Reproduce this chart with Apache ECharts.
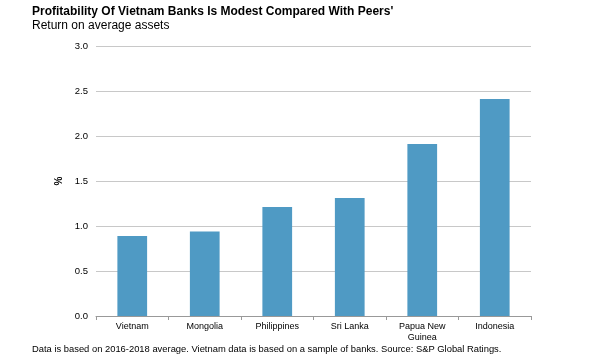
<!DOCTYPE html>
<html><head><meta charset="utf-8">
<script src="https://cdn.jsdelivr.net/npm/echarts@6/dist/echarts.min.js"></script>
<style>html,body{margin:0;padding:0;background:#fff}#c{width:600px;height:360px}</style>
</head><body><div id="c"></div>
<script>
const categories = ['Vietnam', 'Mongolia', 'Philippines', 'Sri Lanka', 'Papua New\nGuinea', 'Indonesia'];
const roaValues = [0.89, 0.94, 1.21, 1.31, 1.91, 2.41];
const titleText = "Profitability Of Vietnam Banks Is Modest Compared With Peers'";
const subtitleText = 'Return on average assets';
const footnoteText = 'Data is based on 2016-2018 average. Vietnam data is based on a sample of banks. Source: S&P Global Ratings.';
const F = 'Liberation Sans, Arial, sans-serif';
const chart = echarts.init(document.getElementById('c'), null, {renderer: 'canvas'});
chart.setOption({
  animation: false,
  backgroundColor: '#fff',
  title: [
    {text: titleText, left: 32, top: 6, padding: 0, textStyle: {fontFamily: F, fontSize: 12, fontWeight: 'bold', color: '#000'}},
    {text: subtitleText, left: 32, top: 20, padding: 0, textStyle: {fontFamily: F, fontSize: 12, fontWeight: 'normal', color: '#000'}},
    {text: footnoteText, left: 32, top: 345, padding: 0, textStyle: {fontFamily: F, fontSize: 9.4, fontWeight: 'normal', color: '#000'}}
  ],
  grid: {left: 96, right: 69, top: 46, bottom: 44, containLabel: false},
  xAxis: {
    type: 'category', data: categories,
    axisLine: {lineStyle: {color: '#999', width: 1}},
    axisTick: {show: true, alignWithLabel: false, length: 4, lineStyle: {color: '#999'}},
    axisLabel: {fontFamily: F, fontSize: 9, color: '#000', margin: 5, lineHeight: 11, interval: 0}
  },
  yAxis: {
    type: 'value', min: 0, max: 3, interval: 0.5,
    name: '%', nameLocation: 'middle', nameGap: 32, nameRotate: 90,
    nameTextStyle: {fontFamily: F, fontSize: 10, fontWeight: 'bold', color: '#000'},
    axisLine: {show: false},
    axisTick: {show: false},
    splitLine: {lineStyle: {color: '#c8c8c8', width: 1}},
    axisLabel: {fontFamily: F, fontSize: 9.5, color: '#000', margin: 8, formatter: v => v.toFixed(1)}
  },
  series: [{
    type: 'bar', data: roaValues, barWidth: '41%',
    itemStyle: {color: '#4f9ac4'}
  }]
});
</script></body></html>
